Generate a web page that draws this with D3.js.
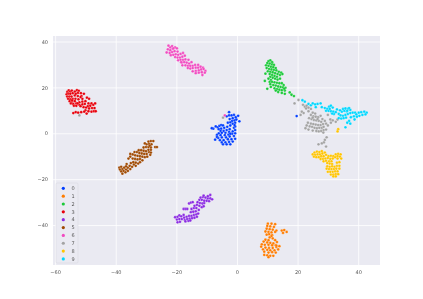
<!DOCTYPE html>
<html>
<head>
<meta charset="utf-8">
<script src="https://cdn.jsdelivr.net/npm/d3@7"></script>
<style>
    html, body { margin: 0; padding: 0; background: #fff; }
    svg { display: block; }
    text { font-family: "DejaVu Sans", sans-serif; }
</style>
</head>
<body>
<div id="chart"></div>
<script>
const labels = ['0', '1', '2', '3', '4', '5', '6', '7', '8', '9'];
const colors = ['#023eff', '#ff7c00', '#1ac938', '#e8000b', '#8b2be2', '#9f4800', '#f14cc1', '#a3a3a3', '#ffc400', '#00d7ff'];
const xTicks = [-60, -40, -20, 0, 20, 40];
const yTicks = [-40, -20, 0, 20, 40];

const points0 = [[-6.4,2.6],[-5.8,3.2],[-5.2,3.6],[-4.6,3.4],[-6,1.8],[-5.2,2],[-4.2,2.4],[-3.2,2.8],[-2.2,3.4],[-1.4,4.2],[-0.6,4.6],[-3,4.6],[-2.2,4.8],[-1.6,5.4],[-0.8,5.6],[-0.2,6],[0.8,5.2],[-2.4,6.2],[-1.4,6.6],[-0.4,7],[0.4,7.6],[-1,8],[-2.6,9.2],[-3.4,7.4],[-2.6,7.8],[-1.8,7.8],[-5.4,1],[-4.4,1],[-3.4,1.4],[-2.4,1.8],[-1,2.4],[-0.6,3],[-6,0],[-5,0.2],[-3.8,0.2],[-2.6,0.6],[-1.4,0.8],[-0.6,1.4],[-6.6,-0.7],[-5.4,-0.8],[-4,-0.8],[-2.8,-0.6],[-1.6,-0.2],[-0.6,0],[-6.2,-2],[-5,-1.8],[-3.6,-1.8],[-2.4,-1.4],[-1,-1.2],[-7.2,-2.8],[-5.6,-3],[-4.4,-3],[-3,-2.6],[-1.8,-2.6],[-0.6,-2.4],[-5,-4],[-3.8,-4],[-2.6,-3.8],[-1.4,-3.6],[-4.6,-4.8],[-3.4,-4.8],[-2.2,-4.8],[-6.6,-1.6],[-7.8,2],[-8.3,2.2],[-7,3],[-0.8,3.6],[-2.2,-0.2]];

const points1 = [[10.2,-39.4],[11.4,-39.4],[12.6,-39.6],[10,-40.4],[11,-40.6],[12.2,-40.8],[9.8,-41.6],[10.8,-41.8],[11.8,-42],[9.4,-42.8],[10.4,-43],[11.4,-43.2],[13,-42.4],[14.8,-42.4],[15.6,-42.2],[16.4,-43],[15.2,-43.4],[10.6,-44],[11.6,-44.4],[9.8,-44.2],[12.6,-43],[10.8,-45.4],[11.8,-45.8],[9.4,-46.4],[10.4,-46.6],[12.6,-46.6],[13.2,-47.4],[8.8,-47.2],[10,-47.6],[11,-47.8],[12,-48],[8.2,-48.4],[9.2,-48.6],[10.4,-48.6],[11.6,-48.8],[12.8,-48.8],[8,-49.4],[9.4,-49.8],[10.6,-50],[11.8,-50],[13,-49.6],[14,-49.2],[8.6,-50.6],[10,-50.8],[11,-51],[12.4,-51],[13.6,-50.6],[9,-51.6],[10.4,-52],[11.6,-51.8],[12.8,-52],[9,-53],[10,-53.2],[11,-53.4],[12,-53.4],[11.4,-44.8],[13,-49],[10.4,-54]];

const points2 = [[10.4,31.4],[11,31.8],[11.6,31],[10,30.6],[10.8,30.4],[11.6,30],[12.2,29.8],[9.6,29.6],[10.4,29.4],[11.2,29],[12,28.8],[12.8,28.4],[9.8,28.4],[10.6,28],[11.4,27.8],[12.2,27.6],[13,27.4],[13.8,26.8],[14.6,26.4],[10.2,27],[11,26.8],[11.8,26.6],[12.6,26.2],[13.4,25.8],[14.2,25.4],[15,25.8],[10.8,25.8],[11.6,25.4],[12.4,25],[13.2,24.6],[11,24.6],[11.8,24.2],[12.6,23.8],[13.4,23.4],[14.2,23.8],[10.4,23.8],[11.2,23.2],[10.8,22.4],[11.6,22.4],[12.4,22.2],[13.2,22],[14,21.8],[14.8,21.8],[15.4,21],[11,21.4],[12,21],[12.8,20.8],[13.6,20.4],[14.4,20.2],[15.2,20],[16,19.8],[11.2,20.2],[12.4,19.6],[13.2,19.2],[14,19],[14.8,18.8],[15.8,18.6],[9.2,22.8],[10,19.4],[13.6,18],[14.8,17.6],[15.8,17.2],[17.4,17.8],[18,16.8],[18.8,16.2],[9.4,26],[15.6,19.4],[12.8,18.6]];

const points3 = [[-56,18],[-55.5,18.7],[-55,18.2],[-54.5,18.6],[-56.2,17],[-55.6,17.3],[-55,17.2],[-54.2,17.5],[-53.5,18.2],[-52.8,18.8],[-52.2,18.5],[-52.5,17.6],[-51.5,17.5],[-50.5,17.2],[-53.5,16.5],[-52.5,16.2],[-51.3,16.2],[-56,16],[-55.3,16],[-54.6,16],[-55.7,15],[-55,14.8],[-54.2,15],[-53.3,15],[-52.3,14.8],[-51,15],[-49.5,15.5],[-48.8,15],[-55.2,14],[-54.5,13.8],[-53.5,14],[-54.8,13],[-54,12.8],[-53,13],[-52,13.5],[-51,13.8],[-50,14],[-49,13],[-48,13],[-53.8,12],[-53,12],[-52,12.4],[-51,12.6],[-50.2,12.8],[-49.2,11.8],[-48.4,12],[-47.4,12.4],[-46.8,13],[-47.8,11],[-47,11],[-50.6,11.4],[-49.8,11.2],[-48.8,10.8],[-50,10],[-49,9.6],[-48,9.4],[-47.2,9.6],[-46.6,9.6],[-54,8.8],[-53.2,9.2],[-52.4,9],[-51.4,9.2],[-49.6,8.6],[-50.4,9.4],[-51.6,15.8],[-53.2,17.2],[-54.4,14.4],[-52.6,13],[-51.6,11.8]];

const points4 = [[-20.4,-36.6],[-19.6,-36.4],[-19,-35.8],[-18.4,-36.2],[-17.6,-35.6],[-19.8,-37.6],[-19,-37.4],[-18.2,-37.4],[-17.4,-36.8],[-16.6,-36.4],[-15.8,-36],[-15,-36],[-14.2,-35.6],[-13.4,-35.4],[-12.8,-35],[-19.6,-38.8],[-18.8,-38.6],[-17.2,-37.8],[-16.4,-37.4],[-15.6,-37.2],[-14.8,-37],[-14,-36.8],[-13.2,-36.4],[-17,-38.4],[-16,-38.2],[-15.4,-38],[-17.6,-33],[-17,-33],[-16.4,-33],[-15.8,-30.6],[-15.2,-30.2],[-14.6,-30],[-15.2,-34.4],[-14.4,-34.2],[-13.6,-34],[-15,-33],[-14.2,-32.6],[-13.4,-32.6],[-12.6,-33.4],[-14,-31.6],[-13.2,-31.2],[-12.4,-31.6],[-11.6,-32.2],[-11,-31.8],[-13,-30],[-12.2,-30.4],[-11.4,-30.6],[-10.8,-30.4],[-12.4,-29],[-11.6,-29],[-10.8,-29.4],[-10,-29.4],[-9.2,-29.6],[-12,-28],[-11.2,-27.8],[-10.4,-28],[-9.6,-28.4],[-8.8,-28.4],[-8.2,-28.8],[-11,-27.2],[-9.6,-27.4],[-8.8,-26.9]];

const points5 = [[-38.8,-15],[-38.2,-14.6],[-38.6,-15.8],[-37.8,-15.6],[-37.2,-15],[-38.2,-16.6],[-37.4,-16.4],[-36.6,-15.8],[-36,-15],[-37.8,-17.6],[-36.8,-17],[-36,-16.4],[-35.2,-15.6],[-35.4,-14.2],[-34.6,-14.6],[-34,-13.6],[-33.4,-14.2],[-35,-13],[-34.2,-12.6],[-33.4,-12.8],[-32.6,-13.2],[-32,-12.6],[-35.8,-11],[-35.2,-10.2],[-34.4,-11],[-33.6,-11.2],[-32.8,-11.4],[-32,-11.2],[-31.2,-11.8],[-35.2,-9],[-34.4,-9.2],[-33.6,-9.6],[-32.8,-9.8],[-32,-10],[-31.2,-10.2],[-30.4,-10.4],[-29.6,-10.2],[-28.6,-9.4],[-33.8,-8.2],[-33,-8.2],[-32.2,-8.6],[-31.4,-8.8],[-30.6,-9],[-29.8,-9],[-29,-8.2],[-28.4,-8.4],[-32.4,-7.4],[-31.6,-7.4],[-30.8,-7.6],[-30,-7.8],[-29.2,-7.2],[-28.4,-7.2],[-27,-6],[-26.4,-6],[-30.8,-6.2],[-30,-6],[-29.2,-6],[-28.4,-6.2],[-29.8,-4.8],[-29,-4.6],[-28.2,-4.8],[-30.4,-4.4],[-29.2,-3.6],[-28.4,-3.4],[-27.6,-3.4],[-28.8,-5.4],[-36.4,-13.4],[-36.6,-14.4]];

const points6 = [[-22.6,38.2],[-22,37.4],[-21.4,38],[-22.8,36.6],[-22,36.2],[-21.2,36.8],[-20.4,37.4],[-19.8,37],[-23.2,35.2],[-22.2,35],[-21.4,35.4],[-20.6,35.8],[-19.6,35.6],[-21.8,34],[-21,34.2],[-20.2,34.4],[-19.4,34.2],[-18.6,34.6],[-17.8,35],[-20.4,33.2],[-19.6,33],[-18.8,33],[-18,33.4],[-17.2,33.8],[-19.4,31.8],[-18.6,32],[-17.8,32],[-17,32.2],[-16,32],[-18.2,30.8],[-17.4,31],[-16.6,30.8],[-15.8,30.4],[-15,31],[-18,29.6],[-17,29.6],[-16.2,29.4],[-15.4,29.4],[-14.6,29.4],[-13.8,29.8],[-12.8,29.8],[-16.2,28.4],[-15.4,28.2],[-14.6,28.4],[-13.6,28.6],[-12.8,28.6],[-12,29],[-11.2,28.6],[-14.6,27],[-13.6,27.2],[-12.6,27.4],[-11.8,27.8],[-11,28],[-10.4,27.2],[-13.6,26.2],[-12.6,26.4],[-11.6,26.6],[-10.6,26.4],[-11.4,25.4],[-18.4,31],[-21,37],[-4,7.8]];

const points7 = [[19,13],[20.3,14.5],[21.8,12.4],[22.4,11.6],[23,12],[23.6,11.2],[22.8,10.8],[24.4,10.6],[21.4,9.4],[22,8.8],[21,8],[23.6,9.6],[25,9],[25.8,8.6],[24.4,8],[25.2,7.4],[26,7.2],[26.8,7],[27.6,7.6],[23.8,6.6],[24.6,6.2],[25.4,5.8],[26.2,5.6],[27,5.4],[27.8,5],[25,6.8],[26.6,6.2],[28.2,6.2],[29,5.4],[30,8],[30.8,6],[31,4.6],[31.6,5.6],[32.6,5],[33.2,6],[23.4,4.6],[24.4,4.2],[25.2,4],[26,3.8],[26.8,3.6],[27.6,3.6],[28.4,4],[29.4,4.2],[23,3.4],[24,3],[24.8,2.8],[25.6,2.4],[26.4,2.2],[27.2,2.4],[28,2.4],[28.6,2.8],[30,3.4],[22.6,2.2],[23.6,1.6],[25,1.2],[26.2,1],[27,0.8],[27.8,1],[28.6,1.4],[29.4,1.6],[28.5,0.3],[29.6,-1.75],[29,-2.9],[28.7,-4],[28,-4.4],[26.9,-4.8],[29.4,-5.8],[-4.6,6.8],[-52,7.8]];

const points8 = [[25.6,-8.4],[26.4,-8],[27.2,-8.2],[28,-7.8],[25,-9.2],[25.8,-9.4],[26.6,-9.2],[27.4,-9.2],[28.2,-8.8],[29,-8.4],[25.4,-10.2],[26.2,-10.4],[27,-10.4],[27.8,-10],[28.6,-10],[29.4,-9.4],[30.2,-10],[31,-9.8],[31.8,-10],[32.6,-9.2],[33.4,-9],[34.2,-9.2],[27.6,-11.2],[28.4,-11.2],[29.2,-11],[30,-10.8],[30.8,-11.2],[31.6,-11],[32.4,-10.4],[33.2,-10],[34,-10.2],[28.6,-12.2],[29.4,-12],[30.4,-12.2],[31.2,-12.2],[33.2,-11],[34.4,-11],[29.8,-13],[30.6,-13.2],[31.4,-13.4],[33,-12.8],[33.8,-12.6],[29.8,-14.4],[30.6,-14.6],[31.4,-14.4],[32.2,-14.6],[33,-14.2],[33.8,-14.2],[29.6,-15.4],[30.4,-15.6],[31.2,-15.6],[32,-15.6],[32.8,-15.4],[33.8,-15.4],[30,-16.8],[30.8,-16.8],[31.6,-16.8],[32.4,-16.6],[33.2,-16.6],[31,-18],[31.8,-18],[32.6,-17.8],[33.4,-17.8],[31.8,-18.8],[32.6,-18.8],[33.4,1.8],[33.2,0.8]];

const points9 = [[21.6,14.4],[22.4,13.8],[23.6,12.8],[24.4,12.2],[25,13],[25.8,12.6],[26.6,12.8],[27.6,13],[26,11.4],[28,11.4],[29,11],[29.8,10.6],[30.4,11.6],[31,12],[31.6,11.2],[29.4,9.8],[30.2,9.8],[31,9.6],[31.8,9.4],[32.6,9.2],[33,10.4],[32,8.4],[33.6,8.4],[34.6,9.4],[35.4,9.8],[36.2,9.6],[35,10.6],[35.8,10.8],[36.6,10.6],[37.4,10.2],[34.2,7.8],[35,7.6],[35.8,8],[36.6,8.4],[37.4,8.8],[38.2,9],[39,9],[33.6,6.6],[34.4,6.4],[35.2,6.6],[36,6.8],[37.6,7],[38.6,7.4],[39.4,8.2],[40.2,9],[41,9.2],[42,9.4],[42.8,9],[42.4,8.2],[41.4,8],[40.4,7.6],[39.6,7.2],[38.8,6],[37,5.4],[36.4,4.6],[37.4,4.2],[36.4,9.8],[34,10],[30.6,10.6],[37,11],[35.8,2.6],[31.4,8.6]];

const outlierBlue = [[19.7,7.5]];

const series = [points0.concat(outlierBlue), points1, points2, points3, points4, points5, points6, points7, points8, points9];

const width = 423, height = 299;
const margin = {left: 53, right: 43, top: 36, bottom: 34};
const w = width - margin.left - margin.right;
const h = height - margin.top - margin.bottom;

const svg = d3.select('#chart').append('svg').attr('width', width).attr('height', height);

// The reference is a downscaled png, so everything is a bit soft
svg.append('defs').append('filter').attr('id', 'soft')
    .attr('x', 0).attr('y', 0).attr('width', 1).attr('height', 1)
    .attr('filterUnits', 'userSpaceOnUse').attr('width', width).attr('height', height)
    .append('feGaussianBlur').attr('stdDeviation', 0.35);

const root = svg.append('g').attr('filter', 'url(#soft)');
root.append('rect').attr('width', width).attr('height', height).attr('fill', '#fff');

const plot = root.append('g').attr('transform', 'translate(' + margin.left + ',' + margin.top + ')');

const x = d3.scaleLinear().domain([-60.7, 47.2]).range([0, w]);
const y = d3.scaleLinear().domain([-57.4, 42.4]).range([h, 0]);

plot.append('rect').attr('width', w).attr('height', h).attr('fill', '#eaeaf2');

// Axes double as the white grid, the tick marks are hidden like in seaborn
const xAxis = plot.append('g').attr('transform', 'translate(0,' + h + ')')
    .call(d3.axisBottom(x).tickValues(xTicks).tickSize(-h).tickPadding(5).tickFormat(d3.format('d')));
const yAxis = plot.append('g')
    .call(d3.axisLeft(y).tickValues(yTicks).tickSize(-w).tickPadding(5).tickFormat(d3.format('d')));

[xAxis, yAxis].forEach((axis) => {
    axis.select('.domain').remove();
    axis.selectAll('line').attr('stroke', '#fff').attr('stroke-width', 0.8);
    axis.selectAll('text').attr('fill', '#555').style('font-size', '5px')
        .style('font-family', '"DejaVu Sans", sans-serif');
});

const groups = plot.selectAll('.cluster').data(series).enter().append('g').attr('class', 'cluster')
    .attr('fill', (d, i) => colors[i]);

groups.selectAll('circle').data((d) => d).enter().append('circle')
    .attr('cx', (d) => x(d[0]))
    .attr('cy', (d) => y(d[1]))
    .attr('r', 1.4)
    .attr('stroke', '#fff')
    .attr('stroke-width', 0.2);

// Legend, bottom left of the axes
const legend = root.append('g').attr('transform', 'translate(56,183)');
legend.append('rect').attr('width', 22).attr('height', 80).attr('rx', 1)
    .attr('fill', '#eaeaf2').attr('stroke', '#d5d5dc').attr('stroke-width', 0.5);

const rows = legend.selectAll('.row').data(labels).enter().append('g').attr('class', 'row')
    .attr('transform', (d, i) => 'translate(0,' + (5.3 + i * 7.85) + ')');
rows.append('circle').attr('cx', 7.3).attr('r', 1.6).attr('fill', (d, i) => colors[i]);
rows.append('text').attr('x', 17).attr('dy', '0.35em').attr('text-anchor', 'middle')
    .attr('fill', '#555').style('font-size', '5px').text((d) => d);
</script>
</body>
</html>
